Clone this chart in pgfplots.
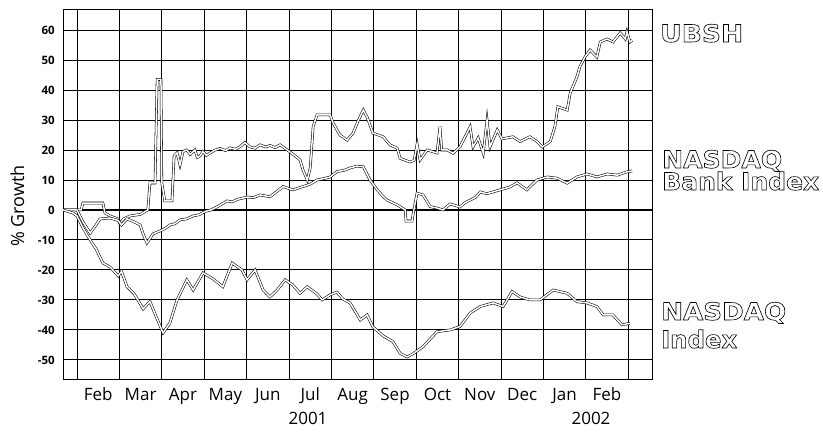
\documentclass[border=0pt]{standalone}
\usepackage{fontspec}
\setmainfont{Open Sans}
\newfontfamily\outlfont{DejaVu Sans}
\usepackage{graphicx}
\usepackage{pgfplots}
\pgfplotsset{compat=1.18}
\newcommand\outl[1]{\special{pdf:literal direct 1 Tr 0.6 w}#1\special{pdf:literal direct 0 Tr 1 w}}
\newcommand\olab[2]{\resizebox{#1}{\height}{\outlfont\bfseries\fontsize{24}{26}\selectfont\outl{#2}}}
\tikzset{hollow/.style={draw=black, line width=0.55pt, double=white, double distance=1.5pt, line join=miter}}
\begin{document}
\begin{tikzpicture}[x=1pt,y=1pt]
\useasboundingbox (0,0) rectangle (823,433);
\begin{axis}[
  at={(63pt,53pt)}, anchor=south west,
  scale only axis, width=589pt, height=371pt,
  xmin=0.67, xmax=14.56, ymin=-56.7, ymax=67,
  axis line style={line width=1pt},
  xtick={1.5,2.5,...,13.5},
  xticklabels={Feb,Mar,Apr,May,Jun,Jul,Aug,Sep,Oct,Nov,Dec,Jan,Feb},
  extra x ticks={1,2,...,14},
  extra x tick labels={},
  extra x tick style={grid=major},
  xmajorgrids=false,
  ytick={-50,-40,...,60},
  ymajorgrids=true,
  extra y ticks={0},
  extra y tick labels={},
  extra y tick style={grid=major, major grid style={line width=1.8pt, black}},
  major grid style={line width=0.9pt, black},
  major tick length=0pt,
  xticklabel style={font=\fontsize{17}{19}\selectfont, anchor=base, yshift=-21pt},
  yticklabel style={font=\bfseries\fontsize{11.5}{13}\selectfont, anchor=east, inner sep=0pt, xshift=-8pt},
  /pgf/number format/assume math mode=true,
]
% UBSH
\addplot[hollow] coordinates {
(0.67,0) (1.10,0) (1.14,2.3) (1.61,2.3) (1.66,-1) (1.78,-2) (1.97,-3) (2.01,-4.5) (2.10,-3)
(2.25,-2) (2.49,-1.5) (2.67,0) (2.72,9) (2.84,9) (2.89,43.5) (2.98,43.5) (3.00,9) (3.07,3)
(3.24,3) (3.29,18) (3.36,19) (3.43,15) (3.50,19.5) (3.59,20) (3.67,18.5) (3.78,20) (3.84,17.5) (3.90,18)
(3.97,19.5) (4.05,18.2) (4.14,19) (4.26,20) (4.37,20.5) (4.50,19.8) (4.61,20.7) (4.73,20.2) (4.84,21) (4.96,22.5) (5.08,21)
(5.20,20.6) (5.32,21.7) (5.45,21) (5.55,21.5) (5.67,20.8) (5.79,21.7) (5.86,21) (6.02,19.4) (6.26,16.7) (6.33,13.3) (6.43,10)
(6.50,14) (6.57,27.8) (6.66,31.7) (6.97,31.7) (7.04,29) (7.20,25) (7.37,23.3) (7.51,25.6)
(7.63,29.7) (7.75,33.3) (7.84,31) (7.98,25.6) (8.22,24.4) (8.38,21.7) (8.55,20.6) (8.62,17.2)
(8.85,16) (8.95,16.5) (9.02,22) (9.09,16.7) (9.26,20) (9.49,19) (9.56,27.8) (9.60,20)
(9.73,20) (9.87,18.9) (10.03,21) (10.27,27.7) (10.34,21) (10.46,24) (10.58,18.9) (10.67,30)
(10.74,21) (10.91,26.7) (11.02,23.7) (11.28,24.4) (11.45,22.8) (11.68,24.4) (11.85,22.8)
(11.97,21) (12.16,22.8) (12.27,27.8) (12.34,34.4) (12.56,33.3) (12.63,38.9) (12.79,44.4)
(12.86,47.8) (12.98,51) (13.10,53.3) (13.26,51) (13.34,56) (13.50,57) (13.64,56) (13.81,59)
(13.93,57) (13.97,59.4) (14.04,56) (14.09,56.5)
};
% NASDAQ Bank Index
\addplot[hollow] coordinates {
(0.67,0) (1.00,0) (1.14,-4) (1.31,-7.7) (1.45,-5) (1.54,-3) (1.78,-2.7) (1.97,-3.5) (2.05,-5)
(2.18,-3) (2.35,-4) (2.49,-5) (2.56,-8) (2.65,-11) (2.79,-8) (2.96,-7) (3.08,-6.2) (3.19,-5) (3.31,-4.6) (3.43,-3.3)
(3.58,-3) (3.74,-2) (3.88,-1.6) (4.02,-0.5) (4.16,0) (4.30,1) (4.54,3) (4.66,2.7) (4.78,3.5) (5.01,4.3) (5.16,4.1) (5.32,5) (5.55,4.4) (5.70,6) (5.86,7.8)
(6.09,6.7) (6.33,7.8) (6.50,8.6) (6.66,10) (6.80,10.4) (6.97,11) (7.13,12.8) (7.30,13.2) (7.44,14) (7.60,14.6) (7.75,14.4) (7.91,10)
(8.08,6.7) (8.20,4.8) (8.31,3.3) (8.55,1.7) (8.74,0) (8.76,-3.7) (8.90,-3.7) (8.95,0.5) (9.02,5.6)
(9.16,5) (9.33,1.1) (9.50,0.6) (9.63,0) (9.80,2) (10.03,1) (10.15,2.4) (10.27,3.3) (10.40,4.2) (10.51,6) (10.66,5.4) (10.81,6) (11.05,7)
(11.20,7.6) (11.38,9) (11.61,6.7) (11.85,10) (12.09,11) (12.32,10.6) (12.56,8.9) (12.79,11) (13.03,12)
(13.26,11) (13.50,12) (13.74,11.6) (13.97,12.7) (14.09,13)
};
% NASDAQ Index
\addplot[hollow] coordinates {
(0.67,0) (0.90,-1) (1.00,-2) (1.14,-6) (1.31,-10) (1.45,-13) (1.61,-17.7) (1.78,-19)
(1.97,-22) (2.05,-20.5) (2.18,-25.6) (2.35,-28) (2.56,-33) (2.72,-30.5) (2.85,-35) (3.03,-41)
(3.19,-37.7) (3.36,-30) (3.59,-23.3) (3.74,-26.7) (3.97,-21) (4.21,-23) (4.44,-25.6)
(4.66,-17.7) (4.89,-20) (5.01,-23.3) (5.20,-20) (5.39,-26.7) (5.55,-29) (5.72,-26.7)
(5.91,-23.3) (6.09,-25) (6.26,-27.8) (6.43,-25.6) (6.66,-28) (6.78,-30) (6.97,-28.3)
(7.13,-27.4) (7.27,-29.7) (7.44,-31) (7.68,-36.7) (7.84,-35) (7.98,-39) (8.22,-42)
(8.45,-43.9) (8.62,-47.8) (8.78,-49) (8.92,-48) (9.16,-45.6) (9.33,-43) (9.49,-40.6)
(9.80,-40) (10.03,-38.9) (10.27,-34.4) (10.51,-32.2) (10.81,-31) (11.05,-32.2) (11.26,-27.2)
(11.45,-29) (11.68,-30) (11.92,-30) (12.23,-26.7) (12.56,-27.8) (12.79,-30.6) (13.03,-31)
(13.26,-32.2) (13.41,-35) (13.64,-35) (13.85,-38.3) (14.04,-37.8)
};
\end{axis}
\node[rotate=90, font=\fontsize{18}{20}\selectfont] at (17.5,227) {\% Growth};
\node[anchor=base, font=\fontsize{17}{19}\selectfont] at (308,8) {2001};
\node[anchor=base, font=\fontsize{17}{19}\selectfont] at (591,8) {2002};
\node[anchor=base west, inner sep=0pt] at (660,391) {\olab{83pt}{UBSH}};
\node[anchor=base west, inner sep=0pt] at (662,265) {\olab{120pt}{NASDAQ}};
\node[anchor=base west, inner sep=0pt] at (662,243) {\olab{157pt}{Bank Index}};
\node[anchor=base west, inner sep=0pt] at (661,113) {\olab{125pt}{NASDAQ}};
\node[anchor=base west, inner sep=0pt] at (661,85) {\olab{76pt}{Index}};
\end{tikzpicture}
\end{document}
